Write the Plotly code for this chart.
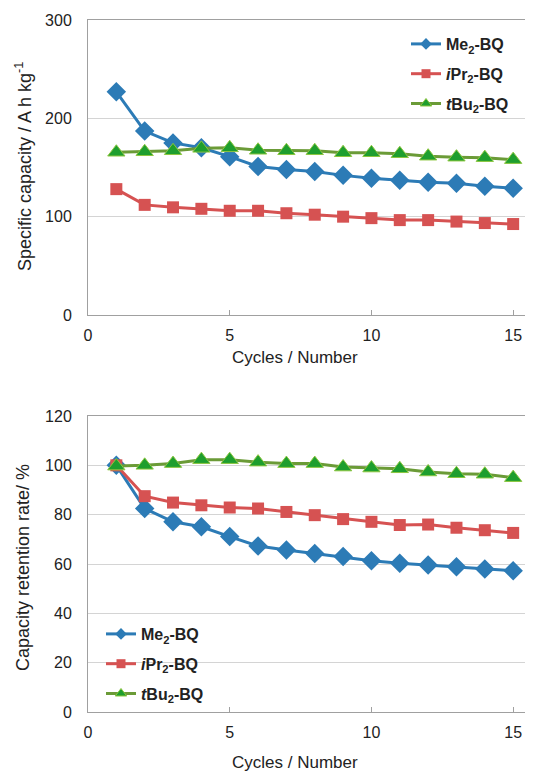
import plotly.graph_objects as go

# ---------------- data ----------------
cycles = list(range(1, 16))
series_names = ["<b>Me<sub>2</sub>-BQ</b>",
                "<b><i>i</i>Pr<sub>2</sub>-BQ</b>",
                "<b><i>t</i>Bu<sub>2</sub>-BQ</b>"]
cap_me2 = [227, 187, 175, 170, 161, 151, 148, 146, 142, 139, 137, 135, 134, 131, 129]
cap_ipr2 = [128, 112, 109.5, 108, 106, 106, 103.5, 102, 100, 98.5, 96.5, 96.5, 95, 93.5, 92.5]
cap_tbu2 = [165.5, 166, 167, 169.5, 170, 167.5, 167, 167, 165, 165, 164, 161.5, 160.5, 160, 158]
ret_me2 = [100, 82.5, 77.1, 75.1, 71.1, 67.3, 65.7, 64.3, 63, 61.3, 60.3, 59.6, 58.9, 58, 57.3]
ret_ipr2 = [100, 87.5, 84.9, 83.8, 82.9, 82.5, 81.1, 79.8, 78.2, 77.1, 75.8, 76, 74.7, 73.7, 72.6]
ret_tbu2 = [99.7, 100, 100.7, 102.3, 102.3, 101.3, 100.7, 100.7, 99.3, 98.9, 98.6, 97.3, 96.6, 96.4, 95]
x_ticks = [0, 5, 10, 15]
y1_ticks = [0, 100, 200, 300]
y2_ticks = [0, 20, 40, 60, 80, 100, 120]

# ---------------- layout geometry (page pixels) ----------------
OFF = 8                      # default body margin of the html page
WIN_W, WIN_H = 533, 773
W, H = WIN_W - OFF, WIN_H - OFF
PL, PR, PT, PB = 88, 533, 20, 712   # plot-area edges in page pixels
L, R, T, B = PL - OFF, WIN_W - PR, PT - OFF, WIN_H - PB
PW, PH = W - L - R, H - T - B

def px_x(p):
    return (p - OFF - L) / PW

def px_y(p):
    return (H - B - (p - OFF)) / PH

top_dom = [px_y(315), px_y(20)]
bot_dom = [px_y(712), px_y(416)]

BLUE = "#2C7BB6"
RED = "#D65252"
GREEN_LINE = "#6B9B37"
GREEN_FILL = "#1E9E2E"
GREEN_EDGE = "#8CC63F"

styles = [
    dict(line=dict(color=BLUE, width=3),
         marker=dict(symbol="diamond", size=15, color=BLUE, line=dict(width=0))),
    dict(line=dict(color=RED, width=3),
         marker=dict(symbol="square", size=12, color=RED, line=dict(width=0))),
    dict(line=dict(color=GREEN_LINE, width=3),
         marker=dict(symbol="triangle-up", size=15, color=GREEN_FILL,
                     line=dict(width=1, color=GREEN_EDGE))),
]
leg_markers = [
    dict(symbol="diamond", size=9, color=BLUE, line=dict(width=0)),
    dict(symbol="square", size=9, color=RED, line=dict(width=0)),
    dict(symbol="triangle-up", size=10, color=GREEN_FILL, line=dict(width=1, color=GREEN_EDGE)),
]

fig = go.Figure()

for ys, xa, ya, lg in [((cap_me2, cap_ipr2, cap_tbu2), "x", "y", "legend"),
                       ((ret_me2, ret_ipr2, ret_tbu2), "x2", "y2", "legend2")]:
    for i, yv in enumerate(ys):
        fig.add_trace(go.Scatter(x=cycles, y=yv, mode="lines+markers",
                                 xaxis=xa, yaxis=ya, showlegend=False,
                                 line=styles[i]["line"], marker=styles[i]["marker"],
                                 name=series_names[i]))
    for i in range(3):
        fig.add_trace(go.Scatter(x=[None], y=[None], mode="lines+markers",
                                 xaxis=xa, yaxis=ya, legend=lg,
                                 legendgroup=f"{lg}{i}",
                                 line=dict(color=styles[i]["line"]["color"], width=3),
                                 marker=leg_markers[i], name=series_names[i]))

FONT = "Liberation Sans, Arial, sans-serif"
AX_COL = "#A0A0A0"
GRID_COL = "#D4D4D4"

xax = dict(range=[0, 15.7], tickvals=x_ticks, showline=True, linecolor=AX_COL,
           linewidth=1, mirror=True, ticks="inside", ticklen=5, tickcolor=AX_COL,
           showgrid=False, zeroline=False, tickfont=dict(size=16, color="#222"),
           ticklabelstandoff=6)
yax = dict(showline=True, linecolor=AX_COL, linewidth=1, showgrid=True,
           gridcolor=GRID_COL, gridwidth=1, zeroline=False, ticks="",
           tickfont=dict(size=16, color="#222"), ticklabelstandoff=12)

fig.update_layout(
    width=W, height=H,
    margin=dict(l=L, r=R, t=T, b=B, pad=0),
    paper_bgcolor="white", plot_bgcolor="white",
    font=dict(family=FONT, color="#222"),
    xaxis=dict(xax, anchor="y", domain=[0, 1]),
    yaxis=dict(yax, anchor="x", domain=top_dom, range=[0, 300], tickvals=y1_ticks),
    xaxis2=dict(xax, anchor="y2", domain=[0, 1]),
    yaxis2=dict(yax, anchor="x2", domain=bot_dom, range=[0, 120], tickvals=y2_ticks),
    legend=dict(x=px_x(406), y=px_y(27), xanchor="left", yanchor="top",
                bgcolor="rgba(0,0,0,0)", borderwidth=0, tracegroupgap=6,
                font=dict(size=16, color="#222")),
    legend2=dict(x=px_x(101), y=px_y(617), xanchor="left", yanchor="top",
                 bgcolor="rgba(0,0,0,0)", borderwidth=0, tracegroupgap=6,
                 font=dict(size=16, color="#222")),
    shapes=[
        dict(type="rect", xref="paper", yref="paper", layer="between",
             x0=px_x(386), x1=1, y0=px_y(140), y1=px_y(21),
             fillcolor="white", line=dict(width=0)),
        dict(type="rect", xref="paper", yref="paper", layer="between",
             x0=px_x(100), x1=px_x(224), y0=px_y(706), y1=px_y(618),
             fillcolor="white", line=dict(width=0)),
    ],
    annotations=[
        dict(text="Specific capacity / A h kg<sup>-1</sup>", xref="paper", yref="paper",
             x=px_x(23), y=px_y(167), textangle=-90, showarrow=False,
             xanchor="center", yanchor="middle", font=dict(size=18, color="#222")),
        dict(text="Capacity retention rate/ %", xref="paper", yref="paper",
             x=px_x(23), y=px_y(568), textangle=-90, showarrow=False,
             xanchor="center", yanchor="middle", font=dict(size=18, color="#222")),
        dict(text="Cycles / Number", xref="paper", yref="paper",
             x=px_x(295), y=px_y(357), showarrow=False,
             xanchor="center", yanchor="middle", font=dict(size=17, color="#222")),
        dict(text="Cycles / Number", xref="paper", yref="paper",
             x=px_x(295), y=px_y(762), showarrow=False,
             xanchor="center", yanchor="middle", font=dict(size=17, color="#222")),
    ],
)

fig.write_html("out.html")
